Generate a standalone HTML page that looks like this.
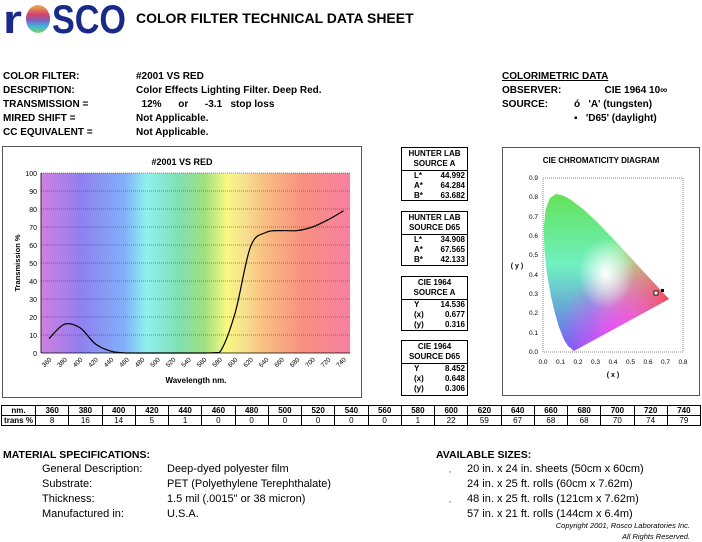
<!DOCTYPE html>
<html><head><meta charset="utf-8"><style>
body{margin:0;width:702px;height:541px;background:#fff;position:relative;overflow:hidden;font-family:"Liberation Sans",Arial,sans-serif;color:#000}
.a{position:absolute;white-space:nowrap}
.b{font-weight:bold;font-size:10px}
.n{font-size:11px}
.hb{position:absolute;border:1px solid #000;box-sizing:border-box;font-size:8px;font-weight:bold;overflow:hidden}
.hb .h{text-align:center;line-height:10px;border-bottom:1px solid #000;padding:1px 0}
.hb .r{display:flex;justify-content:space-between;padding:0 2px 0 12px;line-height:10px}
table{border-collapse:collapse;position:absolute;left:1px;top:405px;width:700px;font-size:8px;font-weight:bold}
td{border:1px solid #000;text-align:center;height:9px;padding:0;line-height:9px}
tr.t td{font-weight:normal}
tr.t td.f{font-weight:bold}
</style></head><body>
<svg class="a" style="left:0;top:0" width="135" height="40">
<defs><linearGradient id="lg" x1="0" y1="0" x2="0" y2="1"><stop offset="0" stop-color="#f0b040"/><stop offset="0.35" stop-color="#d04070"/><stop offset="0.55" stop-color="#8060c0"/><stop offset="0.75" stop-color="#40b0e0"/><stop offset="1" stop-color="#80d060"/></linearGradient></defs>
<text x="3" y="33" font-size="40" font-weight="bold" fill="#1a2a8a" textLength="19" lengthAdjust="spacingAndGlyphs">r</text>
<ellipse cx="38" cy="19" rx="12" ry="14" fill="url(#lg)"/>
<text x="52" y="33" font-size="40" font-weight="bold" fill="#1a2a8a" textLength="74" lengthAdjust="spacingAndGlyphs">SCO</text>
</svg>
<div class="a" style="left:136px;top:10px;font-size:14px;font-weight:bold">COLOR FILTER TECHNICAL DATA SHEET</div>

<div class="a b" style="left:3px;top:70px;line-height:14px">COLOR FILTER:<br>DESCRIPTION:<br>TRANSMISSION =<br>MIRED SHIFT =<br>CC EQUIVALENT =</div>
<div class="a b" style="left:136px;top:70px;line-height:14px">#2001 VS RED<br>Color Effects Lighting Filter. Deep Red.<br>&nbsp;&nbsp;12%&nbsp;&nbsp;&nbsp;&nbsp;&nbsp;&nbsp;or&nbsp;&nbsp;&nbsp;&nbsp;&nbsp;&nbsp;-3.1&nbsp;&nbsp;&nbsp;stop loss<br>Not Applicable.<br>Not Applicable.</div>
<div class="a b" style="left:502px;top:70px;line-height:14px"><u>COLORIMETRIC DATA</u><br>OBSERVER:<br>SOURCE:</div>
<div class="a b" style="left:574px;top:84px;line-height:14px">&nbsp;&nbsp;&nbsp;&nbsp;&nbsp;&nbsp;&nbsp;&nbsp;&nbsp;&nbsp;&nbsp;CIE 1964 10∞<br>ó&nbsp;&nbsp;&nbsp;'A' (tungsten)<br>▪&nbsp;&nbsp;&nbsp;'D65' (daylight)</div>

<svg class="a" style="left:0;top:0" width="702" height="541">
<defs>
<linearGradient id="sp" x1="0" x2="1" y1="0" y2="0">
<stop offset="0" stop-color="#d080e0"/><stop offset="0.13" stop-color="#9080f0"/><stop offset="0.27" stop-color="#80b0f8"/><stop offset="0.34" stop-color="#90f0f0"/><stop offset="0.45" stop-color="#80e0b0"/><stop offset="0.53" stop-color="#a0e080"/><stop offset="0.6" stop-color="#f8f880"/><stop offset="0.66" stop-color="#f8e090"/><stop offset="0.72" stop-color="#f8c080"/><stop offset="0.85" stop-color="#f89080"/><stop offset="1" stop-color="#f880a0"/>
</linearGradient>
<clipPath id="hs"><path id="hsp" d=""/></clipPath>
<linearGradient id="g1" x1="0" y1="0" x2="0" y2="1"><stop offset="0" stop-color="#60e040"/><stop offset="0.5" stop-color="#70f0c0"/><stop offset="1" stop-color="#6060f0"/></linearGradient>
<radialGradient id="g2" cx="0.95" cy="0.72" r="0.6"><stop offset="0" stop-color="#ff3040"/><stop offset="0.6" stop-color="#ff9060" stop-opacity="0.6"/><stop offset="1" stop-color="#ffff60" stop-opacity="0"/></radialGradient>
<radialGradient id="g3" cx="0.55" cy="0.95" r="0.45"><stop offset="0" stop-color="#ff40ff"/><stop offset="1" stop-color="#ff40ff" stop-opacity="0"/></radialGradient>
<radialGradient id="g4" cx="0.45" cy="0.55" r="0.2"><stop offset="0" stop-color="#ffffff"/><stop offset="1" stop-color="#ffffff" stop-opacity="0"/></radialGradient>
</defs>
<rect x="2.5" y="146.5" width="359" height="251" fill="#fff" stroke="#555" stroke-width="1"/>
<text x="182" y="165" font-size="9" font-weight="bold" text-anchor="middle">#2001 VS RED</text>
<rect x="41" y="173" width="309" height="180" fill="url(#sp)"/>
<g stroke="#333" stroke-width="0.6" stroke-dasharray="1,1">
<line x1="41" x2="350" y1="173" y2="173"/><line x1="41" x2="350" y1="191" y2="191"/><line x1="41" x2="350" y1="209" y2="209"/><line x1="41" x2="350" y1="227" y2="227"/><line x1="41" x2="350" y1="245" y2="245"/><line x1="41" x2="350" y1="263" y2="263"/><line x1="41" x2="350" y1="281" y2="281"/><line x1="41" x2="350" y1="299" y2="299"/><line x1="41" x2="350" y1="317" y2="317"/><line x1="41" x2="350" y1="335" y2="335"/>
</g>
<line x1="41" x2="350" y1="353" y2="353" stroke="#000" stroke-width="0.8"/>
<line x1="41" x2="41" y1="173" y2="353" stroke="#000" stroke-width="0.8"/>
<g font-size="7" text-anchor="end">
<text x="37" y="356">0</text><text x="37" y="338">10</text><text x="37" y="320">20</text><text x="37" y="302">30</text><text x="37" y="284">40</text><text x="37" y="266">50</text><text x="37" y="248">60</text><text x="37" y="230">70</text><text x="37" y="212">80</text><text x="37" y="194">90</text><text x="37" y="176">100</text>
</g>
<text transform="translate(20,263) rotate(-90)" font-size="7.5" font-weight="bold" text-anchor="middle">Transmission %</text>
<g font-size="6.5" id="xl"></g>
<text x="196" y="383" font-size="8" font-weight="bold" text-anchor="middle">Wavelength nm.</text>
<path d="" fill="none" stroke="#000" stroke-width="1.2" id="cv"/>

<rect x="502.5" y="147.5" width="197" height="248" fill="#fff" stroke="#555"/>
<text x="601" y="163" font-size="8" font-weight="bold" text-anchor="middle">CIE CHROMATICITY DIAGRAM</text>
<rect x="543" y="178" width="140" height="174" fill="none" stroke="#888" stroke-dasharray="1,1"/>
<g clip-path="url(#hs)">
<rect x="543" y="178" width="140" height="174" fill="url(#g1)"/>
<rect x="543" y="178" width="140" height="174" fill="url(#g2)"/>
<rect x="543" y="178" width="140" height="174" fill="url(#g3)"/>
<rect x="543" y="178" width="140" height="174" fill="url(#g4)"/>
</g>
<g font-size="6.5" text-anchor="end">
<text x="538" y="354">0.0</text><text x="538" y="335">0.1</text><text x="538" y="315">0.2</text><text x="538" y="296">0.3</text><text x="538" y="277">0.4</text><text x="538" y="257">0.5</text><text x="538" y="238">0.6</text><text x="538" y="219">0.7</text><text x="538" y="199">0.8</text><text x="538" y="180">0.9</text>
</g>
<g font-size="6.5" text-anchor="middle">
<text x="543" y="364">0.0</text><text x="560.5" y="364">0.1</text><text x="578" y="364">0.2</text><text x="595.5" y="364">0.3</text><text x="613" y="364">0.4</text><text x="630.5" y="364">0.5</text><text x="648" y="364">0.6</text><text x="665.5" y="364">0.7</text><text x="683" y="364">0.8</text>
</g>
<text x="613" y="377" font-size="7" font-weight="bold" text-anchor="middle">( x )</text>
<text x="517" y="268" font-size="7" font-weight="bold" text-anchor="middle">( y )</text>
<rect x="654" y="291" width="4" height="4" fill="#fff" stroke="#000" stroke-width="0.8"/>
<rect x="661" y="289" width="3" height="3" fill="#000"/>
</svg>

<div class="hb" style="left:401px;top:147px;width:67px;height:54px"><div class="h">HUNTER LAB<br>SOURCE A</div><div class="r"><span>L*</span><span>44.992</span></div><div class="r"><span>A*</span><span>64.284</span></div><div class="r"><span>B*</span><span>63.682</span></div></div>
<div class="hb" style="left:401px;top:211px;width:67px;height:55px"><div class="h">HUNTER LAB<br>SOURCE D65</div><div class="r"><span>L*</span><span>34.908</span></div><div class="r"><span>A*</span><span>67.565</span></div><div class="r"><span>B*</span><span>42.133</span></div></div>
<div class="hb" style="left:401px;top:276px;width:67px;height:55px"><div class="h">CIE 1964<br>SOURCE A</div><div class="r"><span>Y</span><span>14.536</span></div><div class="r"><span>(x)</span><span>0.677</span></div><div class="r"><span>(y)</span><span>0.316</span></div></div>
<div class="hb" style="left:401px;top:340px;width:67px;height:56px"><div class="h">CIE 1964<br>SOURCE D65</div><div class="r"><span>Y</span><span>8.452</span></div><div class="r"><span>(x)</span><span>0.648</span></div><div class="r"><span>(y)</span><span>0.306</span></div></div>

<table>
<tr><td style="width:33px">nm.</td><td>360</td><td>380</td><td>400</td><td>420</td><td>440</td><td>460</td><td>480</td><td>500</td><td>520</td><td>540</td><td>560</td><td>580</td><td>600</td><td>620</td><td>640</td><td>660</td><td>680</td><td>700</td><td>720</td><td>740</td></tr>
<tr class="t"><td class="f">trans %</td><td>8</td><td>16</td><td>14</td><td>5</td><td>1</td><td>0</td><td>0</td><td>0</td><td>0</td><td>0</td><td>0</td><td>1</td><td>22</td><td>59</td><td>67</td><td>68</td><td>68</td><td>70</td><td>74</td><td>79</td></tr>
</table>

<div class="a b" style="left:3px;top:449px;font-size:10.5px">MATERIAL SPECIFICATIONS:</div>
<div class="a n" style="left:42px;top:462px;line-height:15px">General Description:<br>Substrate:<br>Thickness:<br>Manufactured in:</div>
<div class="a n" style="left:167px;top:462px;line-height:15px">Deep-dyed polyester film<br>PET (Polyethylene Terephthalate)<br>1.5 mil (.0015" or 38 micron)<br>U.S.A.</div>
<div class="a b" style="left:436px;top:449px;font-size:10.5px">AVAILABLE SIZES:</div>
<div class="a n" style="left:467px;top:462px;line-height:15px">20 in. x 24 in. sheets (50cm x 60cm)<br>24 in. x 25 ft. rolls (60cm x 7.62m)<br>48 in. x 25 ft. rolls (121cm x 7.62m)<br>57 in. x 21 ft. rolls (144cm x 6.4m)</div>
<div class="a" style="left:449px;top:467px;font-size:7px">,</div>
<div class="a" style="left:449px;top:497px;font-size:7px">,</div>
<div class="a" style="right:12px;top:520px;font-size:7.5px;font-style:italic;text-align:right;line-height:11px">Copyright 2001, Rosco Laboratories Inc.<br>All Rights Reserved.</div>

<script>
var xl=document.getElementById('xl'),s='';
for(var i=0;i<20;i++){var x=49+15.5*i;s+='<text transform="translate('+(x+3)+',360) rotate(-45)" text-anchor="end">'+(360+20*i)+'</text>';}
xl.innerHTML=s;
var v=[8,16,14,5,1,0,0,0,0,0,0,0.3,22,59,67,68,68,70,74,79];
var P=v.map(function(y,i){return [49+15.5*i,353-1.8*y];});
var d='M'+P[0][0]+','+P[0][1];
for(var i=0;i<P.length-1;i++){var p0=P[Math.max(0,i-1)],p1=P[i],p2=P[i+1],p3=P[Math.min(P.length-1,i+2)];
var c1x=p1[0]+(p2[0]-p0[0])/6,c1y=p1[1]+(p2[1]-p0[1])/6,c2x=p2[0]-(p3[0]-p1[0])/6,c2y=p2[1]-(p3[1]-p1[1])/6;
c1y=Math.min(c1y,353);c2y=Math.min(c2y,353);
d+=' C'+c1x.toFixed(1)+','+c1y.toFixed(1)+' '+c2x.toFixed(1)+','+c2y.toFixed(1)+' '+p2[0].toFixed(1)+','+p2[1].toFixed(1);}
document.getElementById('cv').setAttribute('d',d);
var pts=[[0.175,0.005],[0.17,0.01],[0.16,0.02],[0.144,0.030],[0.124,0.058],[0.110,0.087],[0.091,0.133],[0.069,0.201],[0.045,0.295],[0.023,0.413],[0.008,0.538],[0.004,0.655],[0.014,0.750],[0.039,0.812],[0.074,0.834],[0.114,0.826],[0.155,0.806],[0.230,0.754],[0.302,0.692],[0.373,0.624],[0.444,0.555],[0.512,0.487],[0.575,0.424],[0.627,0.372],[0.691,0.308],[0.720,0.28]];
var dd='';pts.forEach(function(p,i){dd+=(i?'L':'M')+(543+p[0]*175).toFixed(1)+','+(352-p[1]*193.3*0.98).toFixed(1);});
document.getElementById('hsp').setAttribute('d',dd+'Z');
</script>
</body></html>
